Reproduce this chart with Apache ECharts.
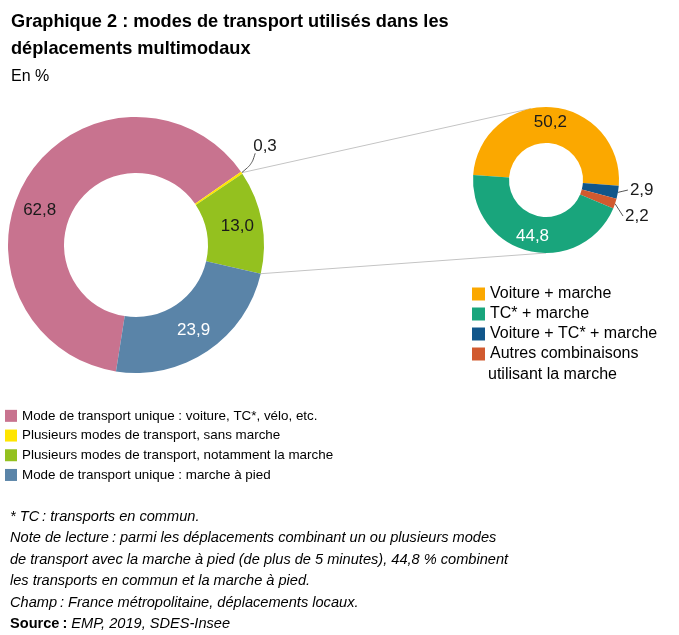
<!DOCTYPE html>
<html>
<head>
<meta charset="utf-8">
<script src="https://cdn.jsdelivr.net/npm/echarts@6/dist/echarts.min.js"></script>
<style>html,body{margin:0;padding:0;background:#fff}#chart{width:679px;height:635px}</style>
</head>
<body>
<div id="chart"></div>
<script>
// ---- Data ----
const mainCategories = [
  'Mode de transport unique : voiture, TC*, vélo, etc.',
  'Plusieurs modes de transport, sans marche',
  'Plusieurs modes de transport, notamment la marche',
  'Mode de transport unique : marche à pied'
];
const mainValues = [62.8, 0.3, 13.0, 23.9];
const mainColors = ['#c8738f', '#ffe500', '#94c11f', '#5a84a8'];

const zoomCategories = [
  'Voiture + marche',
  'TC* + marche',
  'Voiture + TC* + marche',
  'Autres combinaisons utilisant la marche'
];
const zoomValues = [50.2, 44.8, 2.9, 2.2];
const zoomColors = ['#fba800', '#19a57c', '#11568a', '#d15a2f'];

const titleLines = ['Graphique 2 : modes de transport utilisés dans les', 'déplacements multimodaux'];
const subtitleText = 'En %';
const footerLines = [
  '* TC\u2009: transports en commun.',
  'Note de lecture\u2009: parmi les déplacements combinant un ou plusieurs modes',
  'de transport avec la marche à pied (de plus de 5 minutes), 44,8 % combinent',
  'les transports en commun et la marche à pied.',
  'Champ\u2009: France métropolitaine, déplacements locaux.'
];
const sourceLabel = 'Source\u2009:';
const sourceText = 'EMP, 2019, SDES-Insee';

// ---- Layout constants ----
const FONT = "'Liberation Sans', Arial, sans-serif";
const MAIN_C = [136, 245], MAIN_R = [72, 128], MAIN_START = 261;
const ZOOM_C = [546, 180], ZOOM_R = [37, 73], ZOOM_START = 176;
const zoomOrder = [0, 2, 3, 1]; // clockwise drawing order

const fmt = v => v.toFixed(1).replace('.', ',');

const mainLabelStyles = [
  { position: 'inside', color: '#1a1a1a', offset: [-9, 20] },
  { position: 'outside', color: '#1a1a1a' },
  { position: 'inside', color: '#1a1a1a' },
  { position: 'inside', color: '#ffffff' }
];
const zoomLabelStyles = [
  { position: 'inside', color: '#1a1a1a' },
  { position: 'inside', color: '#ffffff' },
  { position: 'outside', color: '#1a1a1a' },
  { position: 'outside', color: '#1a1a1a' }
];

const mainData = mainCategories.map((n, i) => ({
  name: n, value: mainValues[i],
  itemStyle: { color: mainColors[i] },
  label: Object.assign({ show: true, fontFamily: FONT, fontSize: 17 }, mainLabelStyles[i]),
  labelLine: { show: mainLabelStyles[i].position === 'outside', length: 14, length2: 3, smooth: 0.3, lineStyle: { color: '#555', width: 1 } }
}));
const zoomData = zoomOrder.map(i => ({
  name: zoomCategories[i], value: zoomValues[i],
  itemStyle: { color: zoomColors[i] },
  label: Object.assign({ show: true, fontFamily: FONT, fontSize: 17 }, zoomLabelStyles[i]),
  labelLine: { show: zoomLabelStyles[i].position === 'outside', length: 4, length2: 8, lineStyle: { color: '#555', width: 1 } }
}));

// connector lines computed from data angles
function pt(c, r, deg) { const a = deg * Math.PI / 180; return [c[0] + r * Math.cos(a), c[1] - r * Math.sin(a)]; }
const mainTotal = mainValues.reduce((a, b) => a + b, 0);
const yellowMid = MAIN_START - 360 * (mainValues[0] + mainValues[1] / 2) / mainTotal;
const greenEnd = MAIN_START - 360 * (mainValues[0] + mainValues[1] + mainValues[2]) / mainTotal;
const p1a = pt(MAIN_C, MAIN_R[1], yellowMid), p1b = pt(ZOOM_C, ZOOM_R[1], 102);
const p2a = pt(MAIN_C, MAIN_R[1], greenEnd), p2b = pt(ZOOM_C, ZOOM_R[1], -90);

const lastZoom = zoomCategories[zoomCategories.length - 1];
const lastZoomWords = lastZoom.split(' ');

// label nudges with leader lines re-attached to moved labels
function moveLabel(p, dx, dy, toBottom) {
  const s = p.labelLinePoints ? p.labelLinePoints[0] : null;
  const r = p.labelRect;
  const out = { dx: dx, dy: dy, hideOverlap: false };
  if (s) {
    const e = toBottom ? [r.x + dx + 2, r.y + dy + r.height - 1] : [r.x + dx - 2, r.y + dy + r.height / 2];
    const m = toBottom ? [s[0] + (e[0] - s[0]) * 0.75, s[1] + (e[1] - s[1]) * 0.45] : [s[0] + (e[0] - s[0]) * 0.5, s[1] + (e[1] - s[1]) * 0.5];
    out.labelLinePoints = [s, m, e];
  }
  return out;
}

const chart = echarts.init(document.getElementById('chart'), null, { renderer: 'canvas' });
chart.setOption({
  animation: false,
  textStyle: { fontFamily: FONT },
  title: [
    { text: titleLines.join('\n'), left: 6, top: 3,
      textStyle: { fontFamily: FONT, fontSize: 18.2, fontWeight: 'bold', color: '#000', lineHeight: 27 } },
    { text: subtitleText, left: 6, top: 64,
      textStyle: { fontFamily: FONT, fontSize: 16, fontWeight: 'normal', color: '#000' } },
    { text: lastZoomWords.slice(2).join(' '), left: 483, top: 360,
      textStyle: { fontFamily: FONT, fontSize: 16, fontWeight: 'normal', color: '#000', lineHeight: 20 } },
    { text: footerLines.map(l => '{i|' + l + '}').join('\n') + '\n{b|' + sourceLabel + '} {i|' + sourceText + '}',
      left: 5, top: 501,
      textStyle: { fontFamily: FONT, fontSize: 14.6, lineHeight: 21.5, color: '#000', fontWeight: 'normal',
        rich: {
          i: { fontFamily: FONT, fontSize: 14.6, fontStyle: 'italic', fontWeight: 'normal', color: '#000', lineHeight: 21.5 },
          b: { fontFamily: FONT, fontSize: 14.6, fontWeight: 'bold', fontStyle: 'normal', color: '#000', lineHeight: 21.5 }
        } } }
  ],
  legend: [
    { data: mainCategories, orient: 'vertical', left: 5, top: 406, padding: 0, icon: 'rect',
      itemWidth: 12, itemHeight: 12, itemGap: 0, selectedMode: false,
      textStyle: { fontFamily: FONT, fontSize: 13.4, color: '#000', lineHeight: 19.7 } },
    { data: zoomCategories, orient: 'vertical', left: 472, top: 284, padding: 0, icon: 'rect',
      itemWidth: 13, itemHeight: 13, itemGap: 0, selectedMode: false,
      formatter: n => n === lastZoom ? lastZoomWords.slice(0, 2).join(' ') : n,
      textStyle: { fontFamily: FONT, fontSize: 16, color: '#000', lineHeight: 20 } }
  ],
  graphic: [
    { type: 'line', shape: { x1: p1a[0], y1: p1a[1], x2: p1b[0], y2: p1b[1] }, style: { stroke: '#c4c4c4', lineWidth: 1 }, z: 0 },
    { type: 'line', shape: { x1: p2a[0], y1: p2a[1], x2: p2b[0], y2: p2b[1] }, style: { stroke: '#c4c4c4', lineWidth: 1 }, z: 0 }
  ],
  series: [
    { type: 'pie', center: MAIN_C, radius: MAIN_R, startAngle: MAIN_START, clockwise: true,
      avoidLabelOverlap: false, silent: true, z: 2,
      labelLayout: p => p.dataIndex === 1 ? moveLabel(p, -8, -19, true) : { hideOverlap: false },
      label: { formatter: p => fmt(p.value) },
      data: mainData },
    { type: 'pie', center: ZOOM_C, radius: ZOOM_R, startAngle: ZOOM_START, clockwise: true,
      avoidLabelOverlap: true, silent: true, z: 2,
      labelLayout: p => p.dataIndex === 1 ? moveLabel(p, 0, -3, false) : (p.dataIndex === 2 ? moveLabel(p, 1, 4, false) : { hideOverlap: false }),
      label: { formatter: p => fmt(p.value) },
      data: zoomData }
  ]
});
</script>
</body>
</html>
